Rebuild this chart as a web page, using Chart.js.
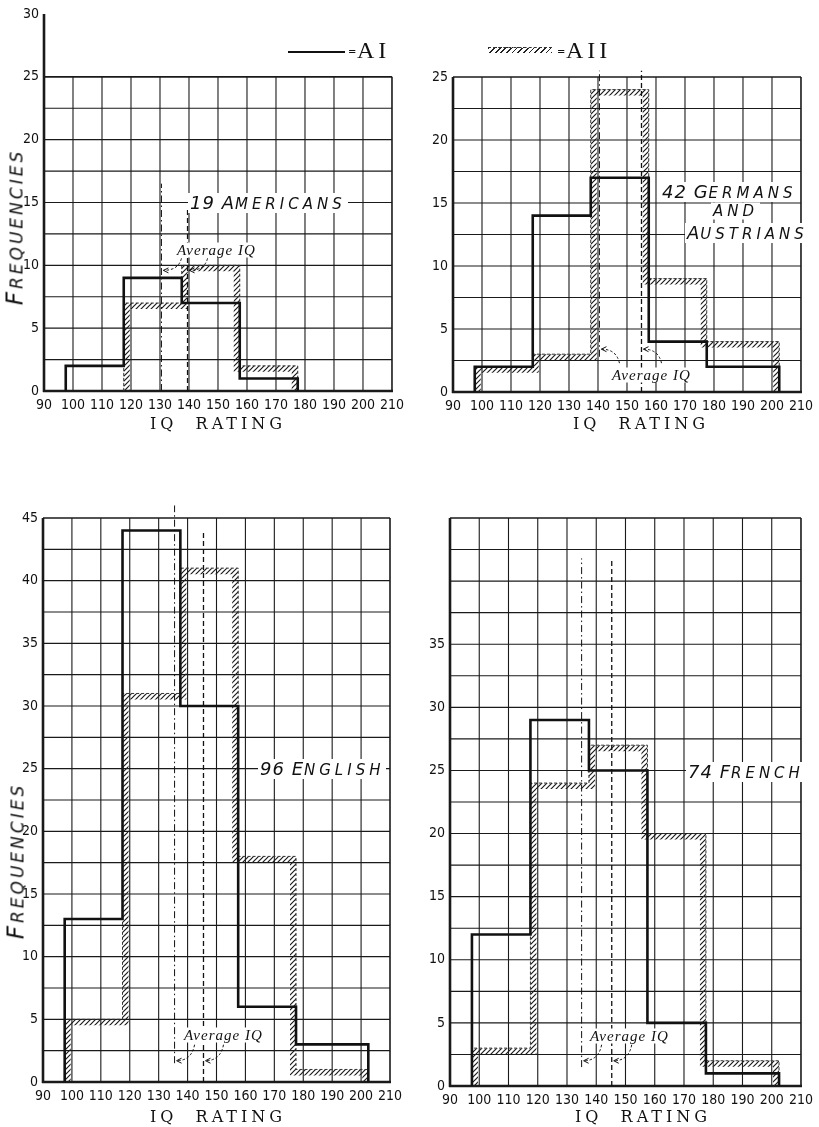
<!DOCTYPE html>
<html>
<head>
<meta charset="utf-8">
<title>IQ rating frequencies, AI and AII</title>
<script src="https://cdn.jsdelivr.net/npm/chart.js@4.4.1/dist/chart.umd.min.js"></script>
<style>
  html, body { margin: 0; padding: 0; background: #fff; }
  #page { position: relative; width: 819px; height: 1127px; overflow: hidden; background: #fff; color: #111; }
  canvas { position: absolute; }
  .txt { position: absolute; white-space: pre; line-height: 1; color: #111; }
  .group { font-family: 'DejaVu Sans', sans-serif; font-style: oblique; font-size: 15px; letter-spacing: 4px; background: #fff; padding: 1px 2px; transform: translateY(-50%); }
  .group b { font-weight: normal; font-size: 18px; letter-spacing: 1px; }
  .ytitle { font-family: 'DejaVu Sans', sans-serif; font-style: oblique; font-size: 17px; letter-spacing: 3px; transform: translate(-50%, -50%) rotate(-90deg); }
  .ytitle b { font-weight: normal; font-size: 23px; }
  .xtitle { font-family: 'DejaVu Serif', serif; font-size: 16px; letter-spacing: 4px; transform: translateY(-50%); }
  .avg { font-family: 'Liberation Serif', serif; font-style: italic; font-size: 15px; letter-spacing: 1px; background: #fff; padding: 0 2px; transform: translateY(-50%); }
  .key { font-family: 'Liberation Serif', serif; font-size: 24px; letter-spacing: 4px; }
  .eq { font-family: 'DejaVu Sans', sans-serif; font-size: 10px; }
  .keyline { position: absolute; height: 0; border-top: 2.5px solid #111; }
  .keyhatch { position: absolute; height: 5px; border-top: 1px dashed #333;
    background: repeating-linear-gradient(135deg, #222 0 1.2px, transparent 1.2px 4px); }
</style>
</head>
<body>
<div id="page">
  <canvas id="americans" width="410" height="440" style="left:0;top:0"></canvas>
  <canvas id="germans" width="409" height="440" style="left:410px;top:0"></canvas>
  <canvas id="english" width="410" height="647" style="left:0;top:480px"></canvas>
  <canvas id="french" width="409" height="647" style="left:410px;top:480px"></canvas>

  <!-- key -->
  <div class="keyline" style="left:288px;top:51px;width:57px"></div>
  <div class="txt eq" style="left:348px;top:47px">=</div>
  <div class="txt key" style="left:357px;top:38px">AI</div>
  <div class="keyhatch" style="left:488px;top:47px;width:64px"></div>
  <div class="txt eq" style="left:557px;top:47px">=</div>
  <div class="txt key" style="left:566px;top:38px">AII</div>

  <!-- axis titles -->
  <div class="txt ytitle" style="left:15px;top:227px"><b>F</b>REQUENCIES</div>
  <div class="txt ytitle" style="left:16px;top:861px"><b>F</b>REQUENCIES</div>
  <div class="txt xtitle" style="left:150px;top:424px">IQ  RATING</div>
  <div class="txt xtitle" style="left:573px;top:424px">IQ  RATING</div>
  <div class="txt xtitle" style="left:150px;top:1117px">IQ  RATING</div>
  <div class="txt xtitle" style="left:575px;top:1117px">IQ  RATING</div>

  <!-- group labels -->
  <div class="txt group" style="left:188px;top:203px"><b>19 A</b>MERICANS</div>
  <div class="txt group" style="left:660px;top:192px"><b>42 G</b>ERMANS</div>
  <div class="txt group" style="left:711px;top:211px">AND</div>
  <div class="txt group" style="left:685px;top:233px"><b>A</b>USTRIANS</div>
  <div class="txt group" style="left:258px;top:769px"><b>96 E</b>NGLISH</div>
  <div class="txt group" style="left:686px;top:772px"><b>74 F</b>RENCH</div>

  <!-- average IQ notes -->
  <div class="txt avg" style="left:175px;top:250px">Average IQ</div>
  <div class="txt avg" style="left:610px;top:375px">Average IQ</div>
  <div class="txt avg" style="left:182px;top:1035px">Average IQ</div>
  <div class="txt avg" style="left:588px;top:1036px">Average IQ</div>
</div>

<script>
// bin edges of the IQ classes (last class is wider)
const binEdges = [97.5, 117.5, 137.5, 157.5, 177.5, 202.5];

// frequencies per class, AI and AII
const americansAI = [2, 9, 7, 1, 0];
const americansAII = [0, 7, 10, 2, 0];
const germansAI = [2, 14, 17, 4, 2];
const germansAII = [2, 3, 24, 9, 4];
const englishAI = [13, 44, 30, 6, 3];
const englishAII = [5, 31, 41, 18, 1];
const frenchAI = [12, 29, 25, 5, 1];
const frenchAII = [3, 24, 27, 20, 2];

// average IQ lines: americans, germans, english, french
const avgAI = [130.5, 140.5, 135.5, 135];
const avgAII = [139.5, 155, 145.5, 145.3];
const avgAISpan = [[0, 16.5], [2.8, 25.5], [1.5, 46], [1.5, 41.8]];
const avgAIISpan = [[0, 14.5], [0, 25.5], [0, 44], [0, 41.8]];
const avgArrowAt = [9.6, 3.4, 1.7, 2];

// tick labels
const xTickValues = [90, 100, 110, 120, 130, 140, 150, 160, 170, 180, 190, 200, 210];
const yTicksAmericans = [0, 5, 10, 15, 20, 25, 30];
const yTicksGermans = [0, 5, 10, 15, 20, 25];
const yTicksEnglish = [0, 5, 10, 15, 20, 25, 30, 35, 40, 45];
const yTicksFrench = [0, 5, 10, 15, 20, 25, 30, 35];

// outline of a histogram as a list of points
function stepOutline(edges, counts) {
    const first = counts.findIndex(c => c > 0);
    let last = counts.length - 1;
    while (last > first && counts[last] === 0) last--;
    const pts = [{ x: edges[first], y: 0 }];
    for (let i = first; i <= last; i++) {
        pts.push({ x: edges[i], y: counts[i] });
        pts.push({ x: edges[i + 1], y: counts[i] });
    }
    pts.push({ x: edges[last + 1], y: 0 });
    return pts;
}

function makeHatch() {
    const p = document.createElement('canvas');
    p.width = 5;
    p.height = 5;
    const g = p.getContext('2d');
    g.strokeStyle = '#1b1b1b';
    g.lineWidth = 1.2;
    g.beginPath();
    g.moveTo(0, 5); g.lineTo(5, 0);
    g.moveTo(-1, 1); g.lineTo(1, -1);
    g.moveTo(4, 6); g.lineTo(6, 4);
    g.stroke();
    return g.createPattern(p, 'repeat');
}
const hatch = makeHatch();

// squared paper: light grid every 2.5 / 10, heavy axes
const paperGrid = {
    id: 'paperGrid',
    beforeDatasetsDraw(chart, args, o) {
        const { x, y } = chart.scales;
        const ctx = chart.ctx;
        const left = x.getPixelForValue(90), right = x.getPixelForValue(210);
        const bottom = y.getPixelForValue(0), top = y.getPixelForValue(o.gridTop);
        const line = (x1, y1, x2, y2) => { ctx.beginPath(); ctx.moveTo(x1, y1); ctx.lineTo(x2, y2); ctx.stroke(); };
        ctx.save();
        ctx.strokeStyle = '#1a1a1a';
        ctx.lineWidth = 1.1;
        for (let v = 2.5; v < o.gridTop; v += 2.5) {
            const py = y.getPixelForValue(v);
            line(left, py, right, py);
        }
        for (let v = 100; v < 210; v += 10) {
            const px = x.getPixelForValue(v);
            line(px, bottom, px, top);
        }
        ctx.lineWidth = 1.6;
        line(left, top, right, top);
        line(right, top, right, bottom);
        ctx.lineWidth = 2.6;
        line(left, bottom + 1, left, y.getPixelForValue(o.axisTop));
        line(left - 1, bottom, right + 1, bottom);
        ctx.restore();
    }
};

// keep the hatched band on the inside of the AII outline
const hatchClip = {
    id: 'hatchClip',
    beforeDatasetDraw(chart, args) {
        const ds = chart.data.datasets[args.index];
        if (!ds.hatched) return;
        const { x, y } = chart.scales;
        const ctx = chart.ctx;
        ctx.save();
        ctx.beginPath();
        ds.data.forEach((p, i) => {
            const px = x.getPixelForValue(p.x), py = y.getPixelForValue(p.y);
            if (i === 0) ctx.moveTo(px, py); else ctx.lineTo(px, py);
        });
        ctx.closePath();
        ctx.clip();
    },
    afterDatasetDraw(chart, args) {
        if (chart.data.datasets[args.index].hatched) chart.ctx.restore();
    }
};

// average IQ lines with small arrows
const avgMarks = {
    id: 'avgMarks',
    afterDatasetsDraw(chart, args, o) {
        const { x, y } = chart.scales;
        const ctx = chart.ctx;
        ctx.save();
        ctx.strokeStyle = '#111';
        o.lines.forEach(l => {
            const px = x.getPixelForValue(l.value);
            ctx.lineWidth = l.width;
            ctx.setLineDash(l.dash);
            ctx.beginPath();
            ctx.moveTo(px, y.getPixelForValue(l.from));
            ctx.lineTo(px, y.getPixelForValue(l.to));
            ctx.stroke();

            const tx = px + 2, ty = y.getPixelForValue(o.arrowAt);
            const sx = tx + 18, sy = ty + o.rise;
            ctx.lineWidth = 1;
            ctx.setLineDash([2.5, 2]);
            ctx.beginPath();
            ctx.moveTo(sx, sy);
            ctx.quadraticCurveTo(sx - 3, ty, tx, ty);
            ctx.stroke();
            ctx.setLineDash([]);
            ctx.beginPath();
            ctx.moveTo(tx + 5, ty - 2.5);
            ctx.lineTo(tx, ty);
            ctx.lineTo(tx + 5, ty + 2.5);
            ctx.stroke();
        });
        ctx.restore();
    }
};

const tickFont = { family: "'Liberation Sans Narrow', 'DejaVu Sans Condensed', sans-serif", size: 14 };

function drawPanel(id, p) {
    const ai = stepOutline(binEdges, p.ai);
    const aii = stepOutline(binEdges, p.aii);
    new Chart(document.getElementById(id), {
        type: 'line',
        data: {
            datasets: [
                { label: 'AI', data: ai, borderColor: '#111', borderWidth: 2.6, pointRadius: 0, tension: 0, fill: false },
                { label: 'AII edge', data: aii, borderColor: '#333', borderWidth: 1, borderDash: [3, 2], pointRadius: 0, tension: 0, fill: false },
                { label: 'AII', data: aii, borderColor: hatch, borderWidth: 12, pointRadius: 0, tension: 0, fill: false, hatched: true }
            ]
        },
        options: {
            responsive: false,
            animation: false,
            events: [],
            layout: { padding: { top: p.padTop, right: p.padRight, left: 0, bottom: 0 } },
            plugins: {
                legend: { display: false },
                tooltip: { enabled: false },
                paperGrid: { gridTop: p.gridTop, axisTop: p.yMax },
                avgMarks: {
                    arrowAt: p.arrowAt,
                    rise: p.rise,
                    lines: [
                        { value: p.avgAI, from: p.aiSpan[0], to: p.aiSpan[1], dash: [7, 3, 1.5, 3], width: 1 },
                        { value: p.avgAII, from: p.aiiSpan[0], to: p.aiiSpan[1], dash: [5, 3], width: 1.3 }
                    ]
                }
            },
            scales: {
                x: {
                    type: 'linear',
                    min: 90,
                    max: 210,
                    grid: { display: false, drawTicks: false, tickLength: 0 },
                    border: { display: false },
                    afterBuildTicks: s => { s.ticks = xTickValues.map(v => ({ value: v })); },
                    afterFit: s => { s.height = p.xHeight; },
                    ticks: { font: tickFont, color: '#111', padding: 6, maxRotation: 0, autoSkip: false }
                },
                y: {
                    type: 'linear',
                    min: 0,
                    max: p.yMax,
                    grid: { display: false, drawTicks: false, tickLength: 0 },
                    border: { display: false },
                    afterBuildTicks: s => { s.ticks = p.yTicks.map(v => ({ value: v })); },
                    afterFit: s => { s.width = p.yWidth; },
                    ticks: { font: tickFont, color: '#111', padding: 5, autoSkip: false }
                }
            }
        },
        plugins: [paperGrid, hatchClip, avgMarks]
    });
}

drawPanel('americans', {
    ai: americansAI, aii: americansAII, yTicks: yTicksAmericans,
    yMax: 30, gridTop: 25, padTop: 14, padRight: 17, yWidth: 44, xHeight: 49,
    avgAI: avgAI[0], avgAII: avgAII[0], aiSpan: avgAISpan[0], aiiSpan: avgAIISpan[0],
    arrowAt: avgArrowAt[0], rise: -12
});
drawPanel('germans', {
    ai: germansAI, aii: germansAII, yTicks: yTicksGermans,
    yMax: 25, gridTop: 25, padTop: 77, padRight: 12, yWidth: 43, xHeight: 48,
    avgAI: avgAI[1], avgAII: avgAII[1], aiSpan: avgAISpan[1], aiiSpan: avgAIISpan[1],
    arrowAt: avgArrowAt[1], rise: 14
});
drawPanel('english', {
    ai: englishAI, aii: englishAII, yTicks: yTicksEnglish,
    yMax: 45, gridTop: 45, padTop: 38, padRight: 20, yWidth: 43, xHeight: 45,
    avgAI: avgAI[2], avgAII: avgAII[2], aiSpan: avgAISpan[2], aiiSpan: avgAIISpan[2],
    arrowAt: avgArrowAt[2], rise: -16
});
drawPanel('french', {
    ai: frenchAI, aii: frenchAII, yTicks: yTicksFrench,
    yMax: 45, gridTop: 45, padTop: 38, padRight: 18, yWidth: 40, xHeight: 41,
    avgAI: avgAI[3], avgAII: avgAII[3], aiSpan: avgAISpan[3], aiiSpan: avgAIISpan[3],
    arrowAt: avgArrowAt[3], rise: -16
});
</script>
</body>
</html>
